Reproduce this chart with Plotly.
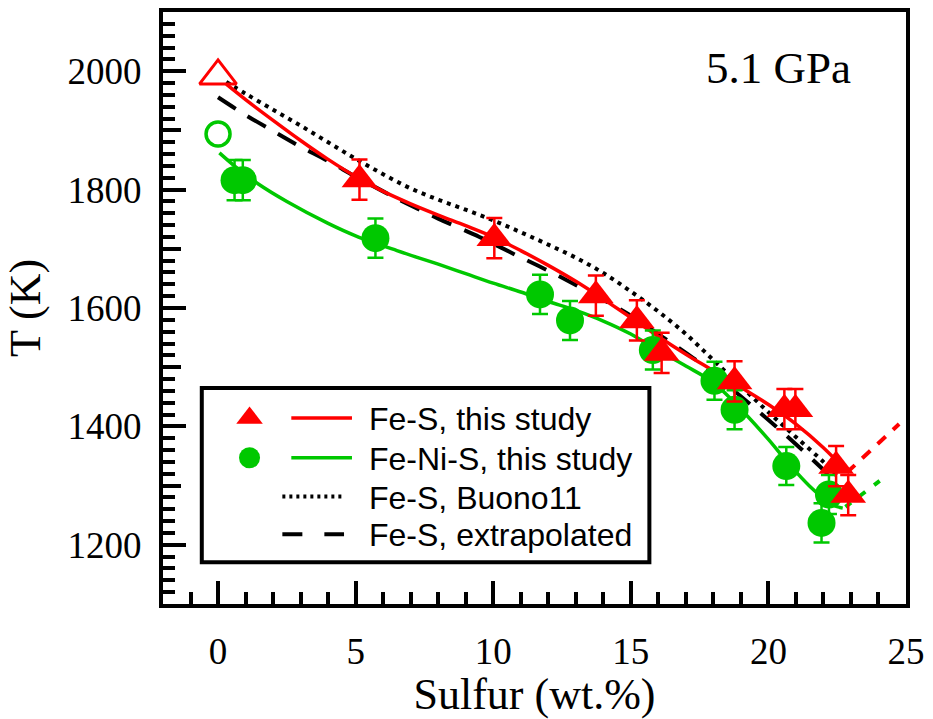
import plotly.graph_objects as go

# ---- measured melting temperatures at 5.1 GPa ----
fes_s = [5.14, 10.04, 13.73, 15.22, 16.12, 18.77, 20.58, 20.98, 22.46, 22.9]
fes_T = [1817, 1718, 1621, 1579, 1524, 1476, 1429, 1429, 1333, 1284]
fes_err = [34, 34, 34, 34, 34, 34, 34, 34, 34, 34]

feni_s = [0.6, 0.9, 5.72, 11.7, 12.79, 15.8, 18.04, 18.77, 20.65, 22.2, 21.93]
feni_T = [1816, 1816, 1718, 1623, 1579, 1529, 1477, 1428, 1333, 1285, 1237]
feni_err = [34, 34, 33, 33, 33, 33, 32, 33, 32, 33, 33]

# end-member (S-free) melting points
fe_s, fe_T = [0.0], [1992]
feni0_s, feni0_T = [0.0], [1894]

# ---- liquidus curves ----
fes_fit_s = [0.3, 1, 2, 3, 4, 5, 6, 7, 8, 9, 10, 11, 12, 13, 14, 15, 16, 17, 18, 19, 20, 21, 22, 22.7]
fes_fit_T = [1978, 1952, 1917, 1883, 1851, 1822, 1797, 1776, 1757, 1739, 1720, 1697, 1672,
             1645, 1615, 1584, 1552, 1522, 1494, 1466, 1437, 1404, 1364, 1331]
fes_ext_s = [22.85, 24.75]
fes_ext_T = [1322, 1404]

feni_fit_s = [0.05, 0.7, 1.45, 2.5, 4, 5, 6.5, 8, 9, 10, 11, 12, 13, 14, 15, 16, 17, 18,
              19, 20, 20.7, 21.5, 22.3, 22.7]
feni_fit_T = [1862, 1836, 1810, 1780, 1743, 1722, 1697, 1674, 1658, 1642, 1627, 1611, 1596,
              1578, 1556, 1528, 1502, 1474, 1429, 1378, 1339, 1299, 1268, 1262]
feni_ext_s = [22.8, 24.1]
feni_ext_T = [1264, 1310]

buono_s = [0.3, 1, 2, 3, 4, 5, 6, 7, 8, 9, 10, 11, 12, 13, 14, 15, 16, 17, 18, 19,
           20, 21, 22, 22.5]
buono_T = [1982, 1962, 1935, 1908, 1880, 1852, 1826, 1802, 1783, 1766, 1748, 1728,
           1707, 1685, 1659, 1628, 1594, 1556, 1512, 1468, 1424, 1382, 1340, 1316]

extrap_s = [0.0, 1, 2, 2.9, 4, 5, 6, 6.8, 8, 9.5, 10.8, 12, 13, 14, 14.9, 16, 17.4, 18.5,
            19.75, 21, 22.2]
extrap_T = [1956, 1926, 1899, 1875, 1848, 1822, 1797, 1778, 1751, 1720, 1690, 1663, 1639,
            1614, 1590, 1556, 1511, 1470, 1421, 1370, 1318]

legend_labels = ["Fe-S, this study", "Fe-Ni-S, this study", "Fe-S, Buono11", "Fe-S, extrapolated"]

RED = "#ff0000"
GREEN = "#00c800"
SERIF = "Liberation Serif"
SANS = "Liberation Sans"

fig = go.Figure()

fig.add_trace(go.Scatter(x=buono_s, y=buono_T, mode="lines", line_shape="spline",
                         line=dict(color="black", width=4, dash="4px,5px"), showlegend=False))
fig.add_trace(go.Scatter(x=extrap_s, y=extrap_T, mode="lines", line_shape="spline",
                         line=dict(color="black", width=4, dash="21px,14px"), showlegend=False))
fig.add_trace(go.Scatter(x=fes_fit_s, y=fes_fit_T, mode="lines", line_shape="spline",
                         line=dict(color=RED, width=3.5), showlegend=False))
fig.add_trace(go.Scatter(x=fes_ext_s, y=fes_ext_T, mode="lines",
                         line=dict(color=RED, width=4, dash="11px,10px"), showlegend=False))
fig.add_trace(go.Scatter(x=feni_fit_s, y=feni_fit_T, mode="lines", line_shape="spline",
                         line=dict(color=GREEN, width=3.5), showlegend=False))
fig.add_trace(go.Scatter(x=feni_ext_s, y=feni_ext_T, mode="lines",
                         line=dict(color=GREEN, width=4, dash="7px,11px"), showlegend=False))

fig.add_trace(go.Scatter(x=feni_s, y=feni_T, mode="markers",
                         marker=dict(symbol="circle", size=28, color=GREEN),
                         error_y=dict(type="data", array=feni_err, color=GREEN,
                                      thickness=2.5, width=8),
                         showlegend=False))
fig.add_trace(go.Scatter(x=fes_s, y=fes_T, mode="markers",
                         marker=dict(symbol="triangle-up", size=31, color=RED),
                         error_y=dict(type="data", array=fes_err, color=RED,
                                      thickness=2.5, width=8),
                         showlegend=False))
fig.add_trace(go.Scatter(x=fe_s, y=fe_T, mode="markers",
                         marker=dict(symbol="triangle-up-open", size=32,
                                     color=RED, line=dict(color=RED, width=3)),
                         showlegend=False))
fig.add_trace(go.Scatter(x=feni0_s, y=feni0_T, mode="markers",
                         marker=dict(symbol="circle-open", size=24,
                                     color=GREEN, line=dict(color=GREEN, width=3.5)),
                         showlegend=False))

# empty trace that carries the intermediate (100 K) tick axis
fig.add_trace(go.Scatter(x=[], y=[], yaxis="y2", showlegend=False))

# ---- hand-built legend on a pixel-unit overlay axis (747 x 595) ----
PW, PH = 747, 595
rows_y = [187, 147, 108, 70]
fig.add_trace(go.Scatter(x=[87], y=[rows_y[0]], xaxis="x3", yaxis="y3", mode="markers",
                         marker=dict(symbol="triangle-up", size=23, color=RED), showlegend=False))
fig.add_trace(go.Scatter(x=[87], y=[rows_y[1]], xaxis="x3", yaxis="y3", mode="markers",
                         marker=dict(symbol="circle", size=21, color=GREEN), showlegend=False))
fig.add_trace(go.Scatter(x=[129, 190], y=[rows_y[0]] * 2, xaxis="x3", yaxis="y3", mode="lines",
                         line=dict(color=RED, width=3.5), showlegend=False))
fig.add_trace(go.Scatter(x=[129, 190], y=[rows_y[1]] * 2, xaxis="x3", yaxis="y3", mode="lines",
                         line=dict(color=GREEN, width=3.5), showlegend=False))
fig.add_trace(go.Scatter(x=[120, 181], y=[rows_y[2]] * 2, xaxis="x3", yaxis="y3", mode="lines",
                         line=dict(color="black", width=4, dash="3px,4px"), showlegend=False))
fig.add_trace(go.Scatter(x=[120, 182], y=[rows_y[3]] * 2, xaxis="x3", yaxis="y3", mode="lines",
                         line=dict(color="black", width=4, dash="20px,22px"), showlegend=False))

fig.add_shape(type="rect", xref="x3", yref="y3", x0=39, x1=489, y0=42, y1=217,
              line=dict(color="black", width=4), fillcolor="rgba(0,0,0,0)", layer="above")
for label, yy in zip(legend_labels, rows_y):
    fig.add_annotation(xref="x3", yref="y3", x=205, y=yy - 1, text=label, showarrow=False,
                       xanchor="left", yanchor="middle",
                       font=dict(family=SANS, size=32, color="black"))

fig.add_annotation(xref="paper", yref="paper", x=0.829, y=0.905, text="5.1 GPa",
                   showarrow=False, xanchor="center", yanchor="middle",
                   font=dict(family=SERIF, size=45, color="black"))

axis_common = dict(showgrid=False, zeroline=False, showline=True, linecolor="black",
                   linewidth=4, mirror=True, ticks="inside", tickcolor="black",
                   tickwidth=3.5, ticklen=23,
                   tickfont=dict(family=SERIF, size=37, color="black"))

fig.update_layout(
    width=933, height=719,
    margin=dict(l=163, r=23, t=8, b=115),
    paper_bgcolor="white", plot_bgcolor="white",
    showlegend=False,
    xaxis=dict(range=[-2, 25], tick0=0, dtick=5,
               minor=dict(dtick=1, ticks="inside", ticklen=12, tickwidth=3.5, tickcolor="black"),
               title=dict(text="Sulfur (wt.%)", font=dict(family=SERIF, size=44, color="black"),
                          standoff=8),
               ticklabelstandoff=12, **axis_common),
    yaxis=dict(range=[1100, 2100], tick0=0, dtick=200,
               minor=dict(dtick=20, ticks="inside", ticklen=12, tickwidth=3.5, tickcolor="black"),
               title=dict(text="T (K)", font=dict(family=SERIF, size=44, color="black"),
                          standoff=14),
               ticklabelstandoff=10, **axis_common),
    yaxis2=dict(range=[1100, 2100], overlaying="y", anchor="x", side="left",
                tickvals=[1300, 1500, 1700, 1900], ticks="inside", ticklen=18,
                tickwidth=3.5, tickcolor="black", showticklabels=False,
                showline=False, showgrid=False, zeroline=False),
    xaxis3=dict(range=[0, PW], overlaying="x", anchor="y3", visible=False, fixedrange=True),
    yaxis3=dict(range=[0, PH], overlaying="y", anchor="x3", visible=False, fixedrange=True),
)

fig.write_html("out.html")
